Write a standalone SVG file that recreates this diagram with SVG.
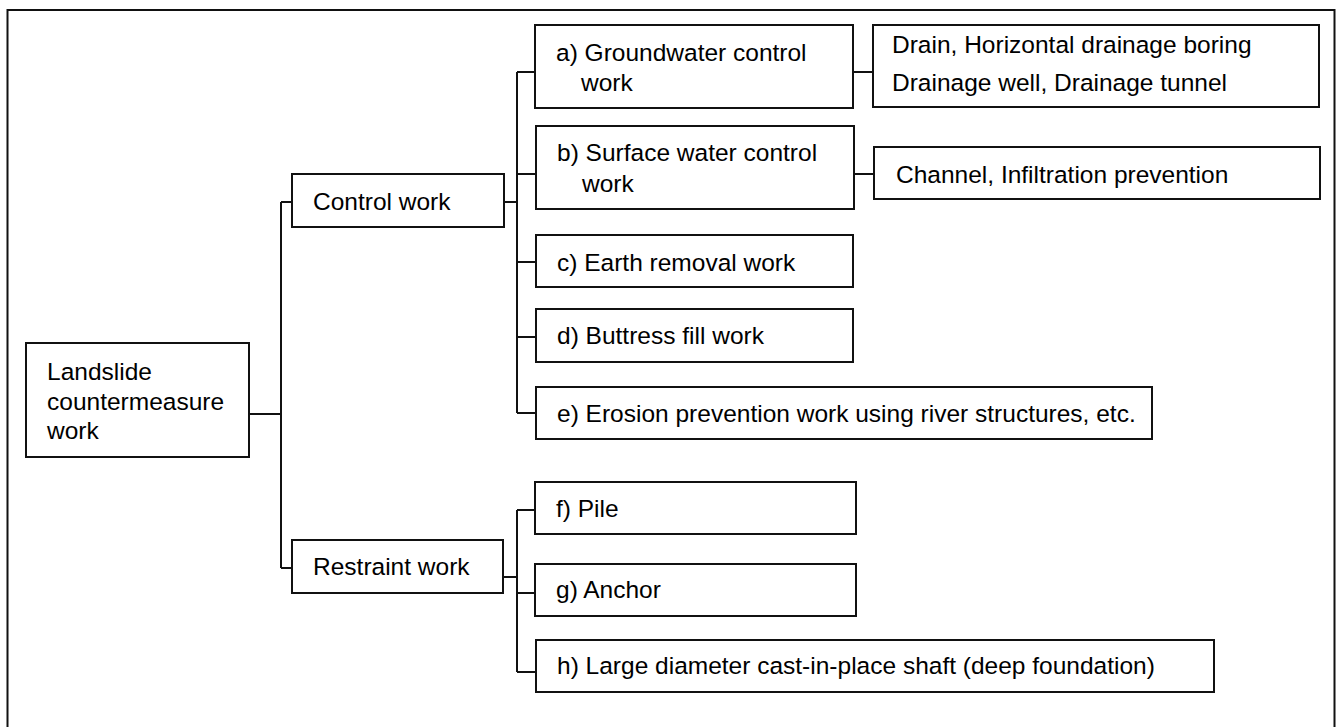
<svg xmlns="http://www.w3.org/2000/svg" width="1338" height="727" viewBox="0 0 1338 727">
  <style>
    .box { fill: #fff; stroke: #111; stroke-width: 2; }
    .frame { fill: none; stroke: #111; stroke-width: 2; }
    .wire { fill: none; stroke: #111; stroke-width: 2; }
    text { font-family: "Liberation Sans", Arial, sans-serif; font-size: 24.5px; fill: #000; }
  </style>
  <rect width="1338" height="727" fill="#fff"/>
  <!-- outer frame (open at the bottom edge) -->
  <rect class="frame" x="7.5" y="10" width="1327" height="760"/>

  <!-- connectors -->
  <g id="connectors">
    <path class="wire" d="M249 414 H281 M281 202 V568 M281 202 H292 M281 568 H292"/>
    <path class="wire" d="M504 202 H517 M517 72 V413 M517 72 H535 M517 174 H536 M517 262 H536 M517 337 H536 M517 413 H536"/>
    <path class="wire" d="M503 577 H517 M517 510 V672 M517 510 H535 M517 593 H535 M517 672 H536"/>
    <path class="wire" d="M853 72 H873 M854 174 H874"/>
  </g>

  <g id="root">
    <rect class="box" x="26" y="343" width="223" height="114"/>
    <text x="47" y="380">Landslide</text>
    <text x="47" y="409.5">countermeasure</text>
    <text x="47" y="439">work</text>
  </g>
  <g id="control">
    <rect class="box" x="292" y="174" width="212" height="53"/>
    <text x="313" y="210">Control work</text>
  </g>
  <g id="restraint">
    <rect class="box" x="292" y="540" width="211" height="53"/>
    <text x="313" y="575">Restraint work</text>
  </g>
  <g id="node-a">
    <rect class="box" x="535" y="25" width="318" height="83"/>
    <text x="556" y="61">a) Groundwater control</text>
    <text x="581" y="91">work</text>
  </g>
  <g id="node-b">
    <rect class="box" x="536" y="126" width="318" height="83"/>
    <text x="557" y="161">b) Surface water control</text>
    <text x="582" y="192">work</text>
  </g>
  <g id="node-c">
    <rect class="box" x="536" y="235" width="317" height="52"/>
    <text x="557" y="271">c) Earth removal work</text>
  </g>
  <g id="node-d">
    <rect class="box" x="536" y="309" width="317" height="53"/>
    <text x="557" y="344">d) Buttress fill work</text>
  </g>
  <g id="node-e">
    <rect class="box" x="536" y="387" width="616" height="52"/>
    <text x="557" y="422">e) Erosion prevention work using river structures, etc.</text>
  </g>
  <g id="node-f">
    <rect class="box" x="535" y="482" width="321" height="52"/>
    <text x="556" y="517">f) Pile</text>
  </g>
  <g id="node-g">
    <rect class="box" x="535" y="564" width="321" height="52"/>
    <text x="556" y="598">g) Anchor</text>
  </g>
  <g id="node-h">
    <rect class="box" x="536" y="640" width="678" height="52"/>
    <text x="557" y="674">h) Large diameter cast-in-place shaft (deep foundation)</text>
  </g>
  <g id="node-drain">
    <rect class="box" x="873" y="25" width="446" height="82"/>
    <text x="892" y="53">Drain, Horizontal drainage boring</text>
    <text x="892" y="90.5">Drainage well, Drainage tunnel</text>
  </g>
  <g id="node-channel">
    <rect class="box" x="874" y="147" width="446" height="52"/>
    <text x="896" y="182.5">Channel, Infiltration prevention</text>
  </g>
</svg>
